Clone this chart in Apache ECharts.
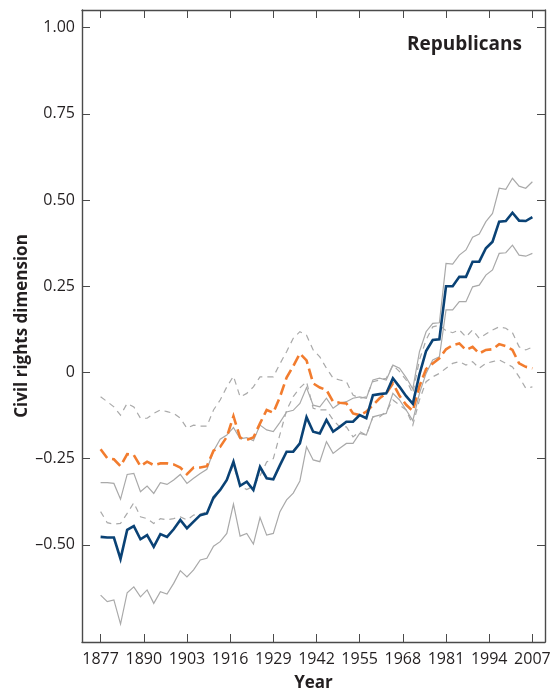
<!DOCTYPE html>
<html>
<head>
<meta charset="utf-8">
<script src="https://cdn.jsdelivr.net/npm/echarts@6/dist/echarts.min.js"></script>
<style>
  html, body { margin: 0; padding: 0; background: #fff; }
  #chart { width: 557px; height: 693px; }
</style>
</head>
<body>
<div id="chart"></div>
<script>
// Congress start years (every second year)
const years = [1877, 1879, 1881, 1883, 1885, 1887, 1889, 1891, 1893, 1895, 1897, 1899, 1901, 1903, 1905, 1907, 1909, 1911, 1913, 1915, 1917, 1919, 1921, 1923, 1925, 1927, 1929, 1931, 1933, 1935, 1937, 1939, 1941, 1943, 1945, 1947, 1949, 1951, 1953, 1955, 1957, 1959, 1961, 1963, 1965, 1967, 1969, 1971, 1973, 1975, 1977, 1979, 1981, 1983, 1985, 1987, 1989, 1991, 1993, 1995, 1997, 1999, 2001, 2003, 2005, 2007];

// Party estimate (solid) with its upper and lower bounds
const partyMean = [-0.477, -0.479, -0.479, -0.541, -0.457, -0.446, -0.484, -0.472, -0.506, -0.469, -0.477, -0.455, -0.428, -0.452, -0.433, -0.414, -0.409, -0.363, -0.341, -0.312, -0.259, -0.329, -0.317, -0.341, -0.274, -0.307, -0.310, -0.269, -0.230, -0.230, -0.206, -0.130, -0.172, -0.177, -0.138, -0.172, -0.158, -0.143, -0.143, -0.124, -0.133, -0.066, -0.063, -0.061, -0.017, -0.042, -0.069, -0.091, -0.006, 0.062, 0.094, 0.096, 0.250, 0.250, 0.277, 0.277, 0.321, 0.321, 0.360, 0.379, 0.437, 0.439, 0.463, 0.440, 0.439, 0.450];
const partyUpper = [-0.320, -0.320, -0.322, -0.368, -0.296, -0.293, -0.346, -0.330, -0.351, -0.320, -0.325, -0.312, -0.296, -0.322, -0.307, -0.293, -0.281, -0.228, -0.194, -0.182, -0.160, -0.193, -0.189, -0.198, -0.153, -0.167, -0.172, -0.145, -0.115, -0.110, -0.090, -0.044, -0.095, -0.100, -0.075, -0.104, -0.090, -0.085, -0.075, -0.071, -0.075, -0.022, -0.017, -0.022, 0.021, 0.012, -0.015, -0.048, 0.060, 0.118, 0.142, 0.144, 0.316, 0.314, 0.340, 0.355, 0.392, 0.401, 0.437, 0.461, 0.534, 0.531, 0.563, 0.540, 0.534, 0.553];
const partyLower = [-0.646, -0.665, -0.660, -0.730, -0.639, -0.622, -0.651, -0.631, -0.670, -0.636, -0.643, -0.612, -0.575, -0.593, -0.573, -0.544, -0.539, -0.504, -0.491, -0.467, -0.382, -0.475, -0.467, -0.498, -0.421, -0.472, -0.467, -0.404, -0.370, -0.350, -0.315, -0.216, -0.254, -0.259, -0.201, -0.235, -0.220, -0.206, -0.206, -0.177, -0.182, -0.129, -0.124, -0.119, -0.061, -0.080, -0.109, -0.140, -0.061, -0.003, 0.036, 0.045, 0.181, 0.181, 0.205, 0.205, 0.248, 0.253, 0.282, 0.297, 0.345, 0.347, 0.369, 0.340, 0.337, 0.345];

// Comparison estimate (dashed) with its upper and lower bounds
const altMean = [-0.223, -0.249, -0.252, -0.272, -0.237, -0.240, -0.272, -0.259, -0.269, -0.264, -0.264, -0.267, -0.276, -0.295, -0.276, -0.276, -0.272, -0.227, -0.216, -0.187, -0.127, -0.189, -0.196, -0.189, -0.148, -0.109, -0.117, -0.071, -0.015, 0.018, 0.055, 0.035, -0.032, -0.044, -0.051, -0.085, -0.088, -0.090, -0.119, -0.124, -0.114, -0.095, -0.075, -0.061, -0.032, -0.068, -0.094, -0.112, -0.040, 0.010, 0.026, 0.041, 0.067, 0.079, 0.084, 0.065, 0.074, 0.055, 0.065, 0.067, 0.082, 0.076, 0.065, 0.026, 0.016, 0.012];
const altUpper = [-0.071, -0.085, -0.100, -0.124, -0.090, -0.100, -0.133, -0.133, -0.119, -0.109, -0.114, -0.119, -0.133, -0.162, -0.153, -0.156, -0.156, -0.109, -0.080, -0.042, -0.011, -0.071, -0.061, -0.042, -0.013, -0.013, -0.013, 0.025, 0.060, 0.099, 0.118, 0.108, 0.065, 0.045, 0.012, -0.017, -0.022, -0.027, -0.066, -0.075, -0.071, -0.027, -0.022, -0.017, 0.021, 0.002, -0.022, -0.061, 0.036, 0.094, 0.132, 0.137, 0.121, 0.115, 0.123, 0.103, 0.123, 0.099, 0.111, 0.123, 0.132, 0.128, 0.115, 0.074, 0.065, 0.073];
const altLower = [-0.404, -0.436, -0.440, -0.438, -0.409, -0.378, -0.419, -0.424, -0.438, -0.424, -0.428, -0.424, -0.419, -0.428, -0.414, -0.411, -0.404, -0.370, -0.341, -0.312, -0.270, -0.330, -0.340, -0.330, -0.300, -0.260, -0.250, -0.180, -0.110, -0.070, -0.045, -0.027, -0.104, -0.109, -0.109, -0.138, -0.158, -0.158, -0.187, -0.172, -0.182, -0.129, -0.129, -0.114, -0.080, -0.095, -0.109, -0.153, -0.080, -0.027, -0.013, -0.003, 0.012, 0.026, 0.031, 0.021, 0.031, 0.012, 0.026, 0.031, 0.036, 0.026, 0.016, -0.013, -0.046, -0.042];

// Axis tick positions
const yearTicks = [1877, 1890, 1903, 1916, 1929, 1942, 1955, 1968, 1981, 1994, 2007];
const valueTicks = [-0.5, -0.25, 0, 0.25, 0.5, 0.75, 1.0];

const FONT = '"Open Sans", "Noto Sans", sans-serif';
const INK = '#231f20';
const FRAME = '#4a4a4a';
const GRAY = '#a9a9a9';

const pairs = vals => years.map((y, i) => [y, vals[i]]);
const fmtValue = v => {
  if (Math.abs(v) < 1e-9) return '0';
  return (v < 0 ? '\u2013' : '') + Math.abs(v).toFixed(2);
};

const frameLine = { show: true, onZero: false, lineStyle: { color: FRAME, width: 1.4 } };
const tickStyle = { color: FRAME, width: 1 };

function line(name, vals, color, width, type, z) {
  return {
    name, type: 'line', data: pairs(vals), symbol: 'none', z,
    lineStyle: { color, width, type, cap: 'butt', join: 'miter' },
    emphasis: { disabled: true }, silent: true
  };
}

const chart = echarts.init(document.getElementById('chart'), null, { renderer: 'canvas' });
chart.setOption({
  animation: false,
  backgroundColor: '#ffffff',
  grid: { left: 82, right: 12, top: 10, bottom: 51, containLabel: false, outerBoundsMode: 'none' },
  title: {
    text: 'Republicans', right: 30, top: 30,
    textStyle: { fontFamily: FONT, fontSize: 19, fontWeight: 'bold', color: INK }
  },
  xAxis: [
    {
      type: 'value', position: 'bottom', min: 1871.4, max: 2010.8,
      axisLine: frameLine,
      axisTick: { show: true, inside: true, length: 8, customValues: yearTicks, lineStyle: tickStyle },
      axisLabel: { show: true, customValues: yearTicks, margin: 9, fontFamily: FONT, fontSize: 16, color: INK, formatter: v => String(v) },
      splitLine: { show: false },
      name: 'Year', nameLocation: 'middle', nameGap: 33, nameMoveOverlap: false,
      nameTextStyle: { fontFamily: FONT, fontSize: 17, fontWeight: 'bold', color: INK }
    },
    {
      type: 'value', position: 'top', min: 1871.4, max: 2010.8,
      axisLine: frameLine,
      axisTick: { show: true, inside: true, length: 8, customValues: yearTicks, lineStyle: tickStyle },
      axisLabel: { show: false }, splitLine: { show: false }
    }
  ],
  yAxis: [
    {
      type: 'value', position: 'left', min: -0.782, max: 1.051,
      axisLine: frameLine,
      axisTick: { show: true, inside: true, length: 8, customValues: valueTicks, lineStyle: tickStyle },
      axisLabel: { show: true, customValues: valueTicks, margin: 7, fontFamily: FONT, fontSize: 16, color: INK, formatter: fmtValue },
      splitLine: { show: false },
      name: 'Civil rights dimension', nameLocation: 'middle', nameGap: 51, nameMoveOverlap: false,
      nameTextStyle: { fontFamily: FONT, fontSize: 17, fontWeight: 'bold', color: INK }
    },
    {
      type: 'value', position: 'right', min: -0.782, max: 1.051,
      axisLine: frameLine,
      axisTick: { show: true, inside: true, length: 8, customValues: valueTicks, lineStyle: tickStyle },
      axisLabel: { show: false }, splitLine: { show: false }
    }
  ],
  series: [
    line('alt upper', altUpper, GRAY, 1.2, [6, 5], 1),
    line('alt lower', altLower, GRAY, 1.2, [6, 5], 1),
    line('party upper', partyUpper, GRAY, 1.2, 'solid', 2),
    line('party lower', partyLower, GRAY, 1.2, 'solid', 2),
    line('alt mean', altMean, '#f27c2e', 2.6, [11, 5], 3),
    line('party mean', partyMean, '#0a4275', 2.6, 'solid', 4)
  ]
});
</script>
</body>
</html>
